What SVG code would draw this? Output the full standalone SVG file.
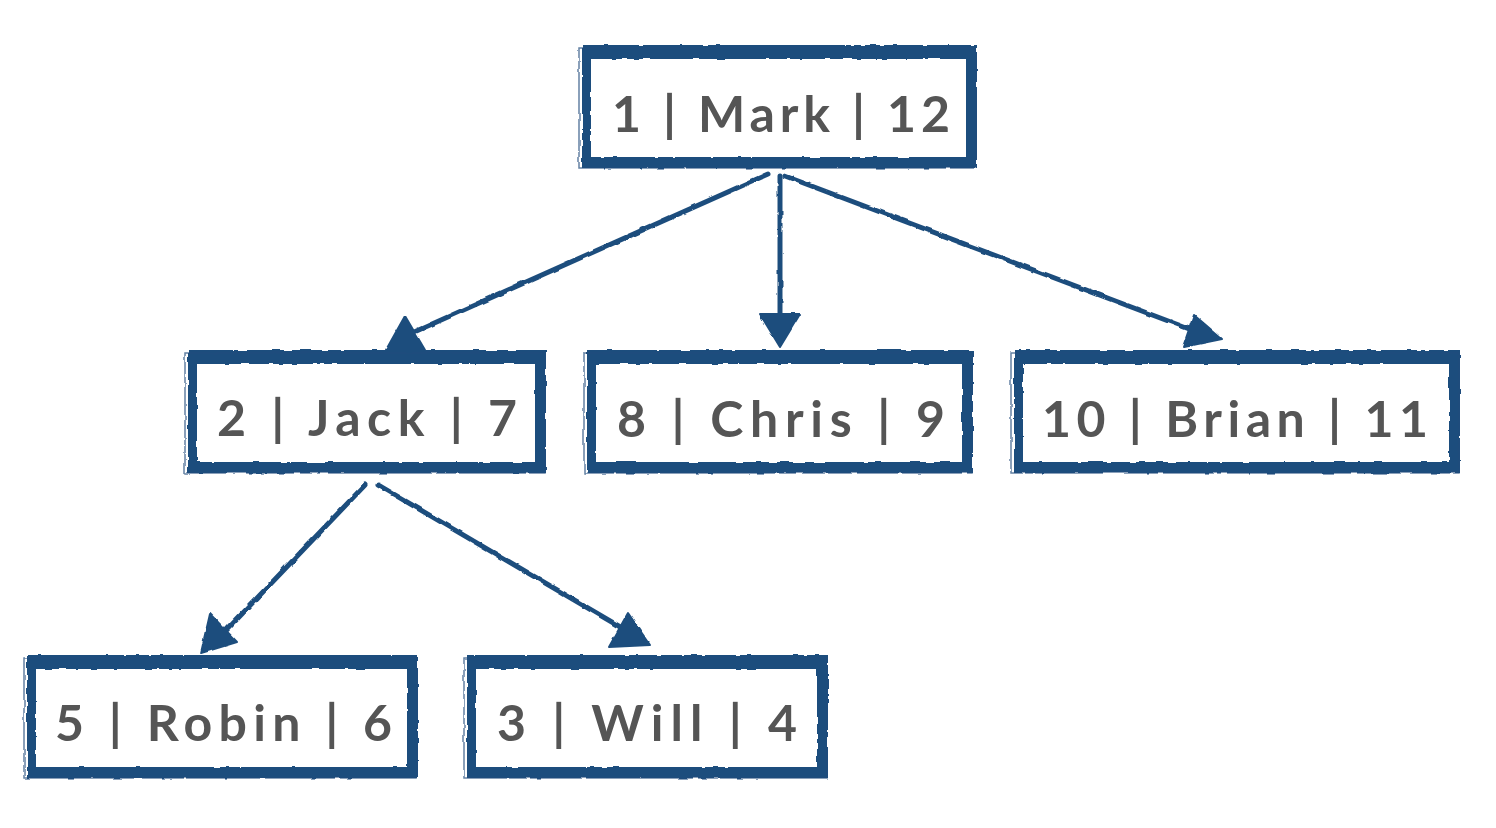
<svg xmlns="http://www.w3.org/2000/svg" width="1496" height="828" viewBox="0 0 1496 828">
  <defs>
    <filter id="rough" x="-5%" y="-5%" width="110%" height="110%">
      <feTurbulence type="fractalNoise" baseFrequency="0.09" numOctaves="2" seed="3" result="n"/>
      <feDisplacementMap in="SourceGraphic" in2="n" scale="3" xChannelSelector="R" yChannelSelector="G"/>
    </filter>
  </defs>
  <style>
    .frame { fill: #1f4e7d; fill-rule: evenodd; filter: url(#rough); }
    .thin { fill: none; stroke: #1f4e7d; stroke-width: 1.5; opacity: 0.7; filter: url(#rough); }
    .label { font-family: "Lato", "Open Sans", "DejaVu Sans", sans-serif; font-weight: 700; font-size: 50px; fill: #555555; }
    .edge { stroke: #1f4e7d; stroke-width: 5; fill: none; stroke-linecap: round; }
    .head { fill: #1f4e7d; stroke: #1f4e7d; stroke-width: 2; stroke-linejoin: round; }
  </style>
  <rect width="1496" height="828" fill="#ffffff"/>

  <g id="connectors" filter="url(#rough)">
    <line class="edge" x1="768" y1="174" x2="412" y2="333"/>
    <polygon class="head" points="405,316 425,350 386,350"/>
    <line class="edge" x1="780" y1="176" x2="780" y2="318"/>
    <polygon class="head" points="760,314 800,314 780,347"/>
    <line class="edge" x1="785" y1="176" x2="1192" y2="330"/>
    <polygon class="head" points="1194,315 1222,339 1183,347"/>
    <line class="edge" x1="365" y1="485" x2="220" y2="637"/>
    <polygon class="head" points="210,614 237,642 201,653"/>
    <line class="edge" x1="378" y1="485" x2="622" y2="628"/>
    <polygon class="head" points="628,613 650,645 609,647"/>
  </g>

  <g id="node-mark">
    <path class="frame" d="M582 45 H977 V168 H582 Z M591 59 V157 H966 V59 Z"/>
    <rect class="thin" x="579" y="48" width="397" height="120"/>
    <text class="label" x="612" y="132" textLength="338" lengthAdjust="spacing">1 | Mark | 12</text>
  </g>

  <g id="node-jack">
    <path class="frame" d="M188 350 H546 V473 H188 Z M197 364 V462 H535 V364 Z"/>
    <rect class="thin" x="185" y="353" width="360" height="120"/>
    <text class="label" x="217" y="436" textLength="300" lengthAdjust="spacing">2 | Jack | 7</text>
  </g>

  <g id="node-chris">
    <path class="frame" d="M587 350 H973 V473 H587 Z M596 364 V462 H962 V364 Z"/>
    <rect class="thin" x="584" y="353" width="388" height="120"/>
    <text class="label" x="617" y="437" textLength="328" lengthAdjust="spacing">8 | Chris | 9</text>
  </g>

  <g id="node-brian">
    <path class="frame" d="M1014 350 H1460 V473 H1014 Z M1023 364 V462 H1449 V364 Z"/>
    <rect class="thin" x="1011" y="353" width="448" height="120"/>
    <text class="label" x="1042" y="437" textLength="386" lengthAdjust="spacing">10 | Brian | 11</text>
  </g>

  <g id="node-robin">
    <path class="frame" d="M27 655 H418 V778 H27 Z M36 669 V767 H407 V669 Z"/>
    <rect class="thin" x="24" y="658" width="393" height="120"/>
    <text class="label" x="55" y="741" textLength="337" lengthAdjust="spacing">5 | Robin | 6</text>
  </g>

  <g id="node-will">
    <path class="frame" d="M467 655 H828 V778 H467 Z M476 669 V767 H817 V669 Z"/>
    <rect class="thin" x="464" y="658" width="363" height="120"/>
    <text class="label" x="497" y="741" textLength="300" lengthAdjust="spacing">3 | Will | 4</text>
  </g>
</svg>
